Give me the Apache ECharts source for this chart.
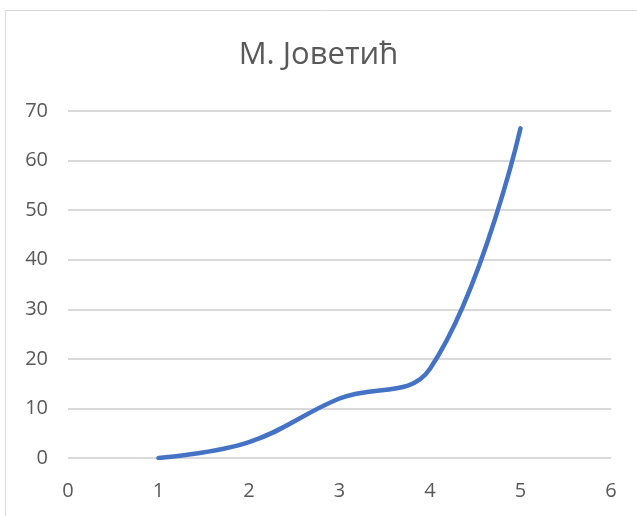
<!DOCTYPE html>
<html><head><meta charset="utf-8">
<script src="https://cdn.jsdelivr.net/npm/echarts@6/dist/echarts.min.js"></script>
<style>html,body{margin:0;padding:0;background:#fff}#c{width:637px;height:516px}</style>
</head><body><div id="c"></div>
<script>
const titleText = "М. Јоветић";
const xValues = [1, 2, 3, 4, 5];
const yValues = [0, 3.2, 12, 18, 66.5];
const xTicks = [0, 1, 2, 3, 4, 5, 6];
const yTicks = [0, 10, 20, 30, 40, 50, 60, 70];

const chart = echarts.init(document.getElementById('c'), null, {renderer: 'canvas'});
const font = "'Open Sans', sans-serif";
chart.setOption({
  animation: false,
  backgroundColor: '#fff',
  title: {
    text: titleText, left: 'center', top: 35,
    textStyle: {fontFamily: font, fontSize: 31, fontWeight: 'normal', color: '#595959'}
  },
  graphic: [{type: 'rect', shape: {x: 5.5, y: 10.5, width: 700, height: 600}, style: {fill: 'none', stroke: '#d9d9d9', lineWidth: 1}, silent: true}],
  grid: {left: 68, right: 26, top: 111, bottom: 58, containLabel: false},
  xAxis: {
    type: 'value', min: xTicks[0], max: xTicks[xTicks.length - 1], interval: 1,
    axisLine: {show: false}, axisTick: {show: false}, splitLine: {show: false},
    axisLabel: {fontFamily: font, fontSize: 20, color: '#595959', margin: 23}
  },
  yAxis: {
    type: 'value', min: yTicks[0], max: yTicks[yTicks.length - 1], interval: 10,
    axisLine: {show: false}, axisTick: {show: false},
    splitLine: {lineStyle: {color: '#d9d9d9', width: 2}},
    axisLabel: {fontFamily: font, fontSize: 20, color: '#595959', margin: 20}
  },
  series: [{
    type: 'line', smooth: 0.4, symbol: 'none',
    data: xValues.map((x, i) => [x, yValues[i]]),
    lineStyle: {color: '#4472C4', width: 4.5, cap: 'round', join: 'round'}
  }]
});
</script></body></html>
